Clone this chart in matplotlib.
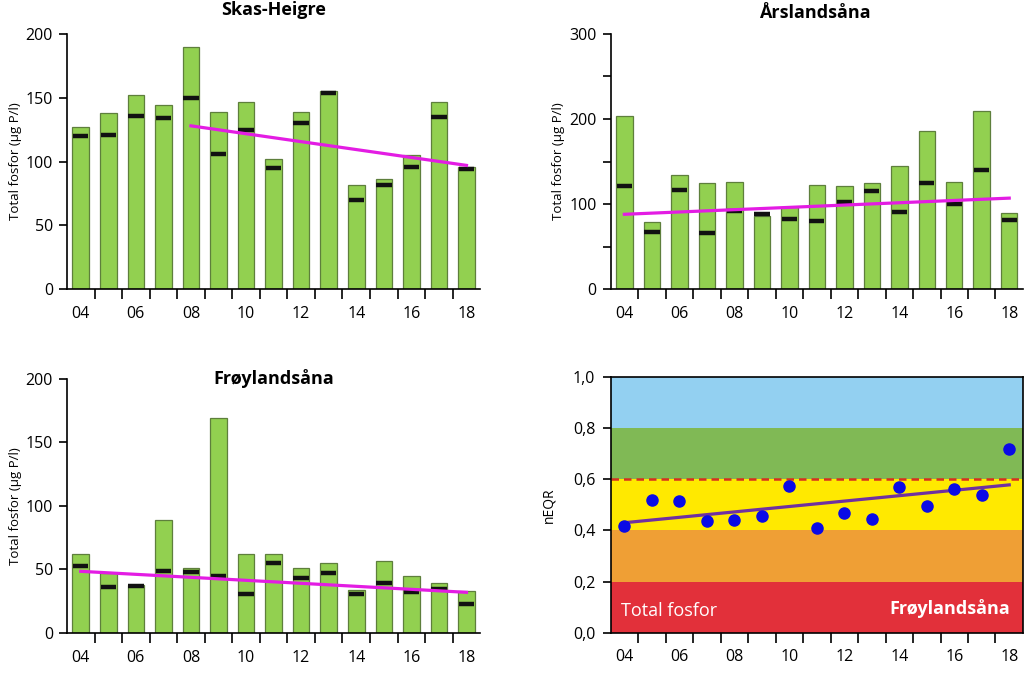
import numpy as np
import matplotlib.pyplot as plt
from matplotlib.ticker import FixedLocator, FuncFormatter, NullFormatter

plt.rcParams['font.family'] = ['Open Sans', 'DejaVu Sans']

# --- data ---
years = ['04', '05', '06', '07', '08', '09', '10', '11', '12', '13', '14', '15', '16', '17', '18']

skas_mean = [127, 138, 152, 144, 190, 139, 147, 102, 139, 155, 82, 86, 105, 147, 96]
skas_median = [120, 121, 136, 134, 150, 106, 125, 95, 130, 154, 70, 82, 96, 135, 94]
skas_trend_idx = [4, 14]
skas_trend = [128, 97]

arsl_mean = [204, 79, 134, 125, 126, 86, 96, 122, 121, 125, 145, 186, 126, 209, 90]
arsl_median = [121, 67, 116, 66, 92, 88, 82, 80, 102, 115, 91, 125, 100, 140, 81]
arsl_trend_idx = [0, 14]
arsl_trend = [88, 107]

froy_mean = [62, 47, 38, 89, 51, 169, 62, 62, 51, 55, 34, 57, 45, 39, 33]
froy_median = [53, 36, 37, 49, 48, 45, 31, 55, 43, 47, 31, 39, 32, 35, 23]
froy_trend_idx = [0, 14]
froy_trend = [48.5, 32]

neqr = [0.416, 0.518, 0.514, 0.437, 0.440, 0.456, 0.574, 0.411, 0.467, 0.445,
        0.568, 0.497, 0.563, 0.537, 0.717]
neqr_trend_idx = [0, 14]
neqr_trend = [0.43, 0.578]

class_bounds = [0.0, 0.2, 0.4, 0.6, 0.8, 1.0]
class_colors = ['#E2303A', '#EF9F35', '#FFE900', '#80B955', '#93D0F1']

BAR = '#92D050'
BAR_EDGE = '#5E7F3C'
TREND = '#E31CE3'

fig = plt.figure(figsize=(10.24, 6.74), dpi=100)

x = np.arange(len(years))


def setup_xaxis(ax):
    ax.set_xlim(-0.5, len(years) - 0.5)
    ax.xaxis.set_major_locator(FixedLocator(x[:-1] + 0.5))
    ax.xaxis.set_major_formatter(NullFormatter())
    ax.xaxis.set_minor_locator(FixedLocator(x[::2]))
    ax.set_xticklabels(years[::2], minor=True)
    ax.tick_params(axis='x', which='major', length=7, width=1.2, direction='out')
    ax.tick_params(axis='x', which='minor', length=0, pad=12, labelsize=11.5)
    ax.tick_params(axis='y', which='both', length=6, width=1.2, direction='out',
                   pad=4, labelsize=11.5)


def bar_panel(rect, mean, median, tidx, tval, ymax, major, minor=None):
    ax = fig.add_axes(rect)
    ax.bar(x, mean, width=0.6, color=BAR, edgecolor=BAR_EDGE, linewidth=0.9, zorder=2)
    ax.hlines(median, x - 0.28, x + 0.28, color='#111111', linewidth=3.2, zorder=3)
    ax.plot(tidx, tval, color=TREND, linewidth=2.3, zorder=4)
    ax.set_ylim(0, ymax)
    ax.set_yticks(major)
    if minor is not None:
        ax.yaxis.set_minor_locator(FixedLocator(minor))
    for s in ['top', 'right']:
        ax.spines[s].set_visible(False)
    for s in ['left', 'bottom']:
        ax.spines[s].set_linewidth(1.2)
    setup_xaxis(ax)
    ax.set_ylabel('Total fosfor (µg P/l)', fontsize=9.5, labelpad=3)
    return ax


ax1 = bar_panel([0.0654, 0.571, 0.4036, 0.3786], skas_mean, skas_median,
                skas_trend_idx, skas_trend, 200, [0, 50, 100, 150, 200])
ax1.text(0.5, 1.074, 'Skas-Heigre', transform=ax1.transAxes, ha='center',
         va='baseline', fontsize=13, fontweight='bold')

ax2 = bar_panel([0.5963, 0.571, 0.4027, 0.3786], arsl_mean, arsl_median,
                arsl_trend_idx, arsl_trend, 300, [0, 100, 200, 300], [50, 150, 250])
ax2.text(0.496, 1.063, 'Årslandsåna', transform=ax2.transAxes, ha='center',
         va='baseline', fontsize=13, fontweight='bold')

ax3 = bar_panel([0.0654, 0.0608, 0.4036, 0.3774], froy_mean, froy_median,
                froy_trend_idx, froy_trend, 200, [0, 50, 100, 150, 200])
ax3.text(0.5, 1.0, 'Frøylandsåna', transform=ax3.transAxes, ha='center',
         va='center', fontsize=13, fontweight='bold')

# nEQR panel
ax4 = fig.add_axes([0.5963, 0.0613, 0.4027, 0.3794])
for lo, hi, c in zip(class_bounds[:-1], class_bounds[1:], class_colors):
    ax4.axhspan(lo, hi, color=c, zorder=0, linewidth=0)
ax4.axhline(0.6, color='#D6301E', linestyle=(0, (3, 2)), linewidth=1.8, zorder=1)
ax4.plot(neqr_trend_idx, neqr_trend, color='#7030A0', linewidth=2.3, zorder=2)
ax4.plot(x, neqr, 'o', color='#0A0AE6', markersize=8, zorder=3)
ax4.set_ylim(0, 1.0)
ax4.set_yticks(class_bounds)
ax4.yaxis.set_major_formatter(FuncFormatter(lambda v, p: f'{v:.1f}'.replace('.', ',')))
for s in ax4.spines.values():
    s.set_linewidth(1.2)
setup_xaxis(ax4)
ax4.tick_params(axis='y', pad=5)
ax4.set_ylabel('nEQR', fontsize=10, labelpad=12)
ax4.text(0.025, 0.085, 'Total fosfor', transform=ax4.transAxes, color='white',
         fontsize=13, ha='left', va='center')
ax4.text(0.97, 0.095, 'Frøylandsåna', transform=ax4.transAxes, color='white',
         fontsize=13, fontweight='bold', ha='right', va='center')

fig.savefig('out.png', dpi=100)
